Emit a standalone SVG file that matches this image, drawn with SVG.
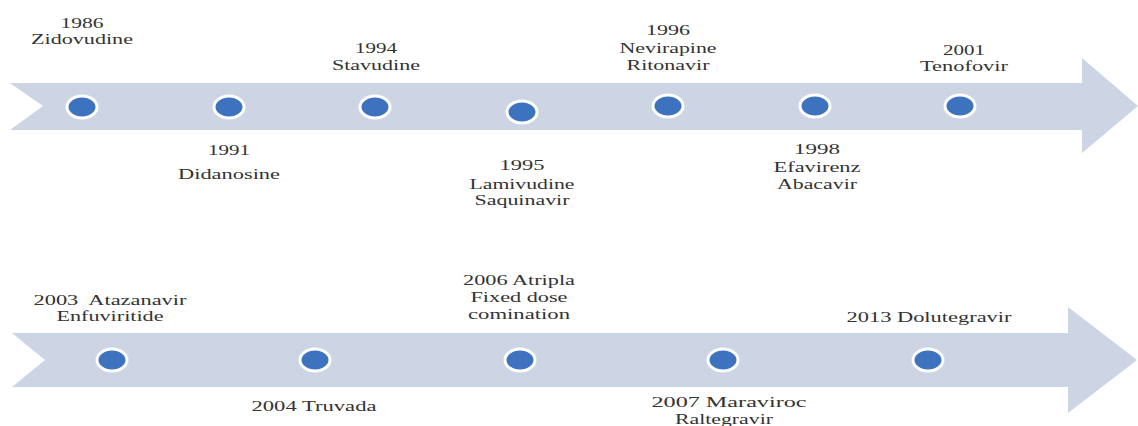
<svg xmlns="http://www.w3.org/2000/svg" width="1138" height="426" viewBox="0 0 1138 426">
<style>
.band{fill:#cdd4e4;}
.dot{fill:#3d72bf;stroke:#ffffff;stroke-width:3;}
.lbl{font-family:'Liberation Serif','DejaVu Serif','Times New Roman',serif;font-size:15px;fill:#333333;text-anchor:middle;}
</style>
<rect x="0" y="0" width="1138" height="426" fill="#ffffff"/>
<g id="connectors">
<polygon class="band" points="10,83 1082,83 1082,58 1138,106 1082,153 1082,130 10,130 43,106"/>
<polygon class="band" points="12,333 1068,333 1068,307 1137,360 1068,413 1068,387 12,387 45,360"/>
</g>
<g id="n1986">
<ellipse class="dot" cx="82" cy="107" rx="15" ry="11"/>
<text class="lbl" x="82" y="28" textLength="43" lengthAdjust="spacingAndGlyphs">1986</text>
<text class="lbl" x="82" y="44" textLength="102" lengthAdjust="spacingAndGlyphs">Zidovudine</text>
</g>
<g id="n1991">
<ellipse class="dot" cx="229" cy="107" rx="15" ry="11"/>
<text class="lbl" x="229" y="155" textLength="42" lengthAdjust="spacingAndGlyphs">1991</text>
<text class="lbl" x="229" y="179" textLength="102" lengthAdjust="spacingAndGlyphs">Didanosine</text>
</g>
<g id="n1994">
<ellipse class="dot" cx="375" cy="107" rx="15" ry="11"/>
<text class="lbl" x="376" y="53" textLength="42" lengthAdjust="spacingAndGlyphs">1994</text>
<text class="lbl" x="376" y="70" textLength="88" lengthAdjust="spacingAndGlyphs">Stavudine</text>
</g>
<g id="n1995">
<ellipse class="dot" cx="522" cy="112" rx="15" ry="11"/>
<text class="lbl" x="522" y="170" textLength="45" lengthAdjust="spacingAndGlyphs">1995</text>
<text class="lbl" x="522" y="189" textLength="105" lengthAdjust="spacingAndGlyphs">Lamivudine</text>
<text class="lbl" x="522" y="205" textLength="95" lengthAdjust="spacingAndGlyphs">Saquinavir</text>
</g>
<g id="n1996">
<ellipse class="dot" cx="668" cy="106" rx="15" ry="11"/>
<text class="lbl" x="668" y="35" textLength="44" lengthAdjust="spacingAndGlyphs">1996</text>
<text class="lbl" x="668" y="53" textLength="97" lengthAdjust="spacingAndGlyphs">Nevirapine</text>
<text class="lbl" x="668" y="70" textLength="83" lengthAdjust="spacingAndGlyphs">Ritonavir</text>
</g>
<g id="n1998">
<ellipse class="dot" cx="815" cy="106" rx="15" ry="11"/>
<text class="lbl" x="817" y="154" textLength="46" lengthAdjust="spacingAndGlyphs">1998</text>
<text class="lbl" x="817" y="172" textLength="87" lengthAdjust="spacingAndGlyphs">Efavirenz</text>
<text class="lbl" x="817" y="189" textLength="80" lengthAdjust="spacingAndGlyphs">Abacavir</text>
</g>
<g id="n2001">
<ellipse class="dot" cx="960" cy="106" rx="15" ry="11"/>
<text class="lbl" x="964" y="55" textLength="42" lengthAdjust="spacingAndGlyphs">2001</text>
<text class="lbl" x="964" y="71" textLength="88" lengthAdjust="spacingAndGlyphs">Tenofovir</text>
</g>
<g id="n2003">
<ellipse class="dot" cx="112" cy="360" rx="15" ry="11"/>
<text class="lbl" x="110" y="305" textLength="153" lengthAdjust="spacingAndGlyphs" xml:space="preserve">2003  Atazanavir</text>
<text class="lbl" x="110" y="321" textLength="107" lengthAdjust="spacingAndGlyphs">Enfuviritide</text>
</g>
<g id="n2004">
<ellipse class="dot" cx="315" cy="360" rx="15" ry="11"/>
<text class="lbl" x="314" y="411" textLength="125" lengthAdjust="spacingAndGlyphs">2004 Truvada</text>
</g>
<g id="n2006">
<ellipse class="dot" cx="520" cy="360" rx="15" ry="11"/>
<text class="lbl" x="519" y="285" textLength="112" lengthAdjust="spacingAndGlyphs">2006 Atripla</text>
<text class="lbl" x="519" y="302" textLength="97" lengthAdjust="spacingAndGlyphs">Fixed dose</text>
<text class="lbl" x="519" y="319" textLength="102" lengthAdjust="spacingAndGlyphs">comination</text>
</g>
<g id="n2007">
<ellipse class="dot" cx="723" cy="360" rx="15" ry="11"/>
<text class="lbl" x="729" y="407" textLength="155" lengthAdjust="spacingAndGlyphs">2007 Maraviroc</text>
<text class="lbl" x="724" y="424" textLength="98" lengthAdjust="spacingAndGlyphs">Raltegravir</text>
</g>
<g id="n2013">
<ellipse class="dot" cx="928" cy="360" rx="15" ry="11"/>
<text class="lbl" x="929" y="322" textLength="165" lengthAdjust="spacingAndGlyphs">2013 Dolutegravir</text>
</g>
</svg>
